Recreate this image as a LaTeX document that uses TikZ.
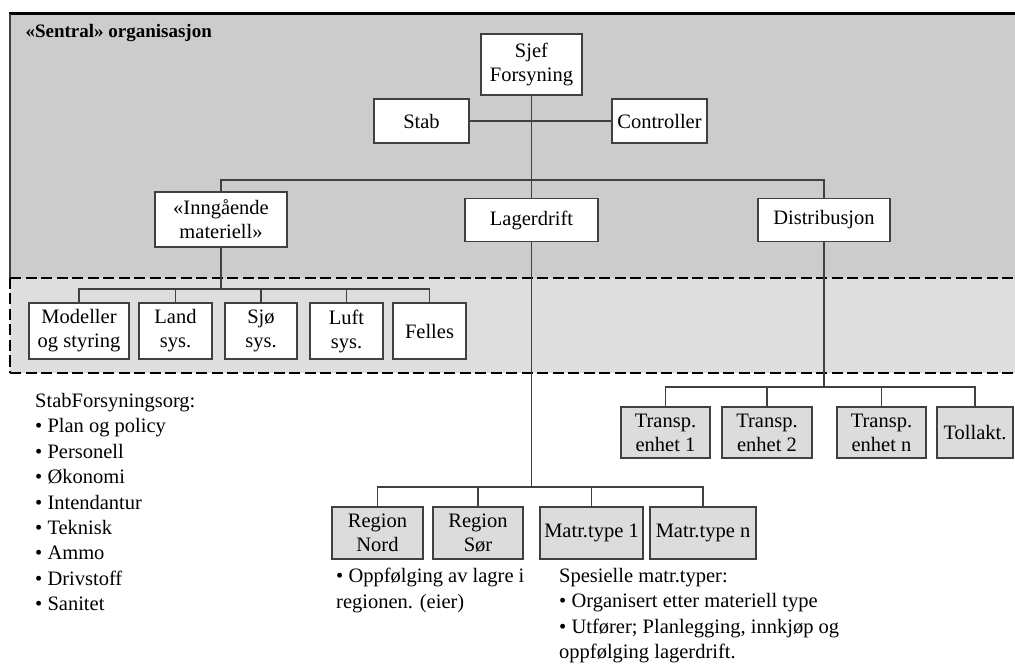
\documentclass[tikz,border=0pt]{standalone}
\usepackage{fontspec}
\setmainfont{Liberation Serif}
\usepackage{tikz}

\definecolor{sentralgraa}{HTML}{CCCCCC}
\definecolor{lysgraa}{HTML}{DEDEDE}
\definecolor{boksgraa}{HTML}{DCDCDC}
\definecolor{strek}{HTML}{404040}

\tikzset{
  enhet/.style={draw=strek, line width=1.4pt, fill=white, align=center,
    inner sep=1pt, font=\fontsize{20.5}{24}\selectfont},
  grenhet/.style={enhet, fill=boksgraa},
  linje/.style={draw=strek, line width=1.2pt},
  skille/.style={line width=2.4pt, dash pattern=on 11pt off 4.5pt},
  liste/.style={align=left, inner sep=0pt, font=\fontsize{20.5}{25.4}\selectfont}
}

\begin{document}
\begin{tikzpicture}[x=1pt,y=-1pt]
  \useasboundingbox (0,0) rectangle (1015,668);

  % Bakgrunn: sentral organisasjon og underliggende nivaa
  \fill[sentralgraa] (10,14) rectangle (1015,278);
  \fill[lysgraa] (10,278) rectangle (1015,373);
  \draw[line width=3pt] (9,14) -- (1015,14);
  \draw[strek, line width=2pt] (10,14) -- (10,278);
  \draw[skille] (10,278) -- (1015,278);
  \draw[skille] (10,373) -- (1015,373);
  \draw[skille, line width=2pt] (10,278) -- (10,373);
  \node[anchor=west, font=\fontsize{19}{22}\selectfont\bfseries] (tittel) at (22,33) {«Sentral» organisasjon};

  % Ledelse
  \node[enhet, minimum width=101pt, minimum height=61pt] (sjef) at (531.5,64.5) {Sjef\\Forsyning};
  \node[enhet, minimum width=95pt, minimum height=44pt] (stab) at (421.5,121) {Stab};
  \node[enhet, minimum width=95pt, minimum height=44pt] (ctrl) at (659.5,121) {Controller};

  % Avdelinger
  \node[enhet, minimum width=132pt, minimum height=55pt] (inng) at (221,219.5) {«Inngående\\materiell»};
  \node[enhet, minimum width=133pt, minimum height=43pt] (lager) at (531.5,220) {Lagerdrift};
  \node[enhet, minimum width=132pt, minimum height=43pt] (dist) at (824,220) {Distribusjon};

  % Systemenheter under «Inngående materiell»
  \node[enhet, minimum width=100pt, minimum height=56pt] (mod) at (79,331) {Modeller\\og styring};
  \node[enhet, minimum width=73pt, minimum height=56pt] (land) at (175.5,331) {Land\\sys.};
  \node[enhet, minimum width=72pt, minimum height=56pt] (sjo) at (261,331) {Sjø\\sys.};
  \node[enhet, minimum width=73pt, minimum height=56pt] (luft) at (346.5,331) {Luft\\sys.};
  \node[enhet, minimum width=73pt, minimum height=56pt] (felles) at (429.5,331) {Felles};

  % Transportenheter
  \node[grenhet, minimum width=89pt, minimum height=51pt] (tr1) at (665.5,432.5) {Transp.\\enhet 1};
  \node[grenhet, minimum width=90pt, minimum height=51pt] (tr2) at (767,432.5) {Transp.\\enhet 2};
  \node[grenhet, minimum width=89pt, minimum height=51pt] (trn) at (881.5,432.5) {Transp.\\enhet n};
  \node[grenhet, minimum width=76pt, minimum height=51pt] (toll) at (975,432.5) {Tollakt.};

  % Regioner og materielltyper
  \node[grenhet, minimum width=91pt, minimum height=52pt] (rnord) at (377.5,533) {Region\\Nord};
  \node[grenhet, minimum width=90pt, minimum height=52pt] (rsor) at (478,533) {Region\\Sør};
  \node[grenhet, minimum width=103pt, minimum height=52pt] (mt1) at (591.5,533) {Matr.type 1};
  \node[grenhet, minimum width=106pt, minimum height=52pt] (mtn) at (703,533) {Matr.type n};

  % Knutepunkter for linjene
  \coordinate (buss1) at (531.5,180);
  \coordinate (buss2) at (221,289);
  \coordinate (buss3) at (531.5,487);
  \coordinate (buss4) at (824,387);

  % Linjer
  \draw[linje] (stab.east) -- (ctrl.west);
  \draw[linje] (sjef.south) -- (lager.north);
  \draw[linje] (inng.north) |- (buss1) -| (dist.north);
  \draw[linje] (inng.south) -- (buss2);
  \draw[linje] (mod.north) |- (buss2) -| (felles.north);
  \foreach \n in {land,sjo,luft}
    \draw[linje] (\n.north) -- (\n.north |- buss2);
  \draw[linje] (lager.south) -- (buss3);
  \draw[linje] (rnord.north) |- (buss3) -| (mtn.north);
  \foreach \n in {rsor,mt1}
    \draw[linje] (\n.north) -- (\n.north |- buss3);
  \draw[linje] (dist.south) -- (buss4);
  \draw[linje] (tr1.north) |- (buss4) -| (toll.north);
  \foreach \n in {tr2,trn}
    \draw[linje] (\n.north) -- (\n.north |- buss4);

  % Tekster
  \node[liste, anchor=north west] (stabtekst) at (35,393) {StabForsyningsorg:\\
    • Plan og policy\\ • Personell\\ • Økonomi\\ • Intendantur\\
    • Teknisk\\ • Ammo\\ • Drivstoff\\ • Sanitet};
  \node[liste, anchor=north west] (regiontekst) at (336,568) {• Oppfølging av lagre i\\regionen. (eier)};
  \node[liste, anchor=north west] (typetekst) at (559,568) {Spesielle matr.typer:\\
    • Organisert etter materiell type\\ • Utfører; Planlegging, innkjøp og\\
    oppfølging lagerdrift.};
\end{tikzpicture}
\end{document}
